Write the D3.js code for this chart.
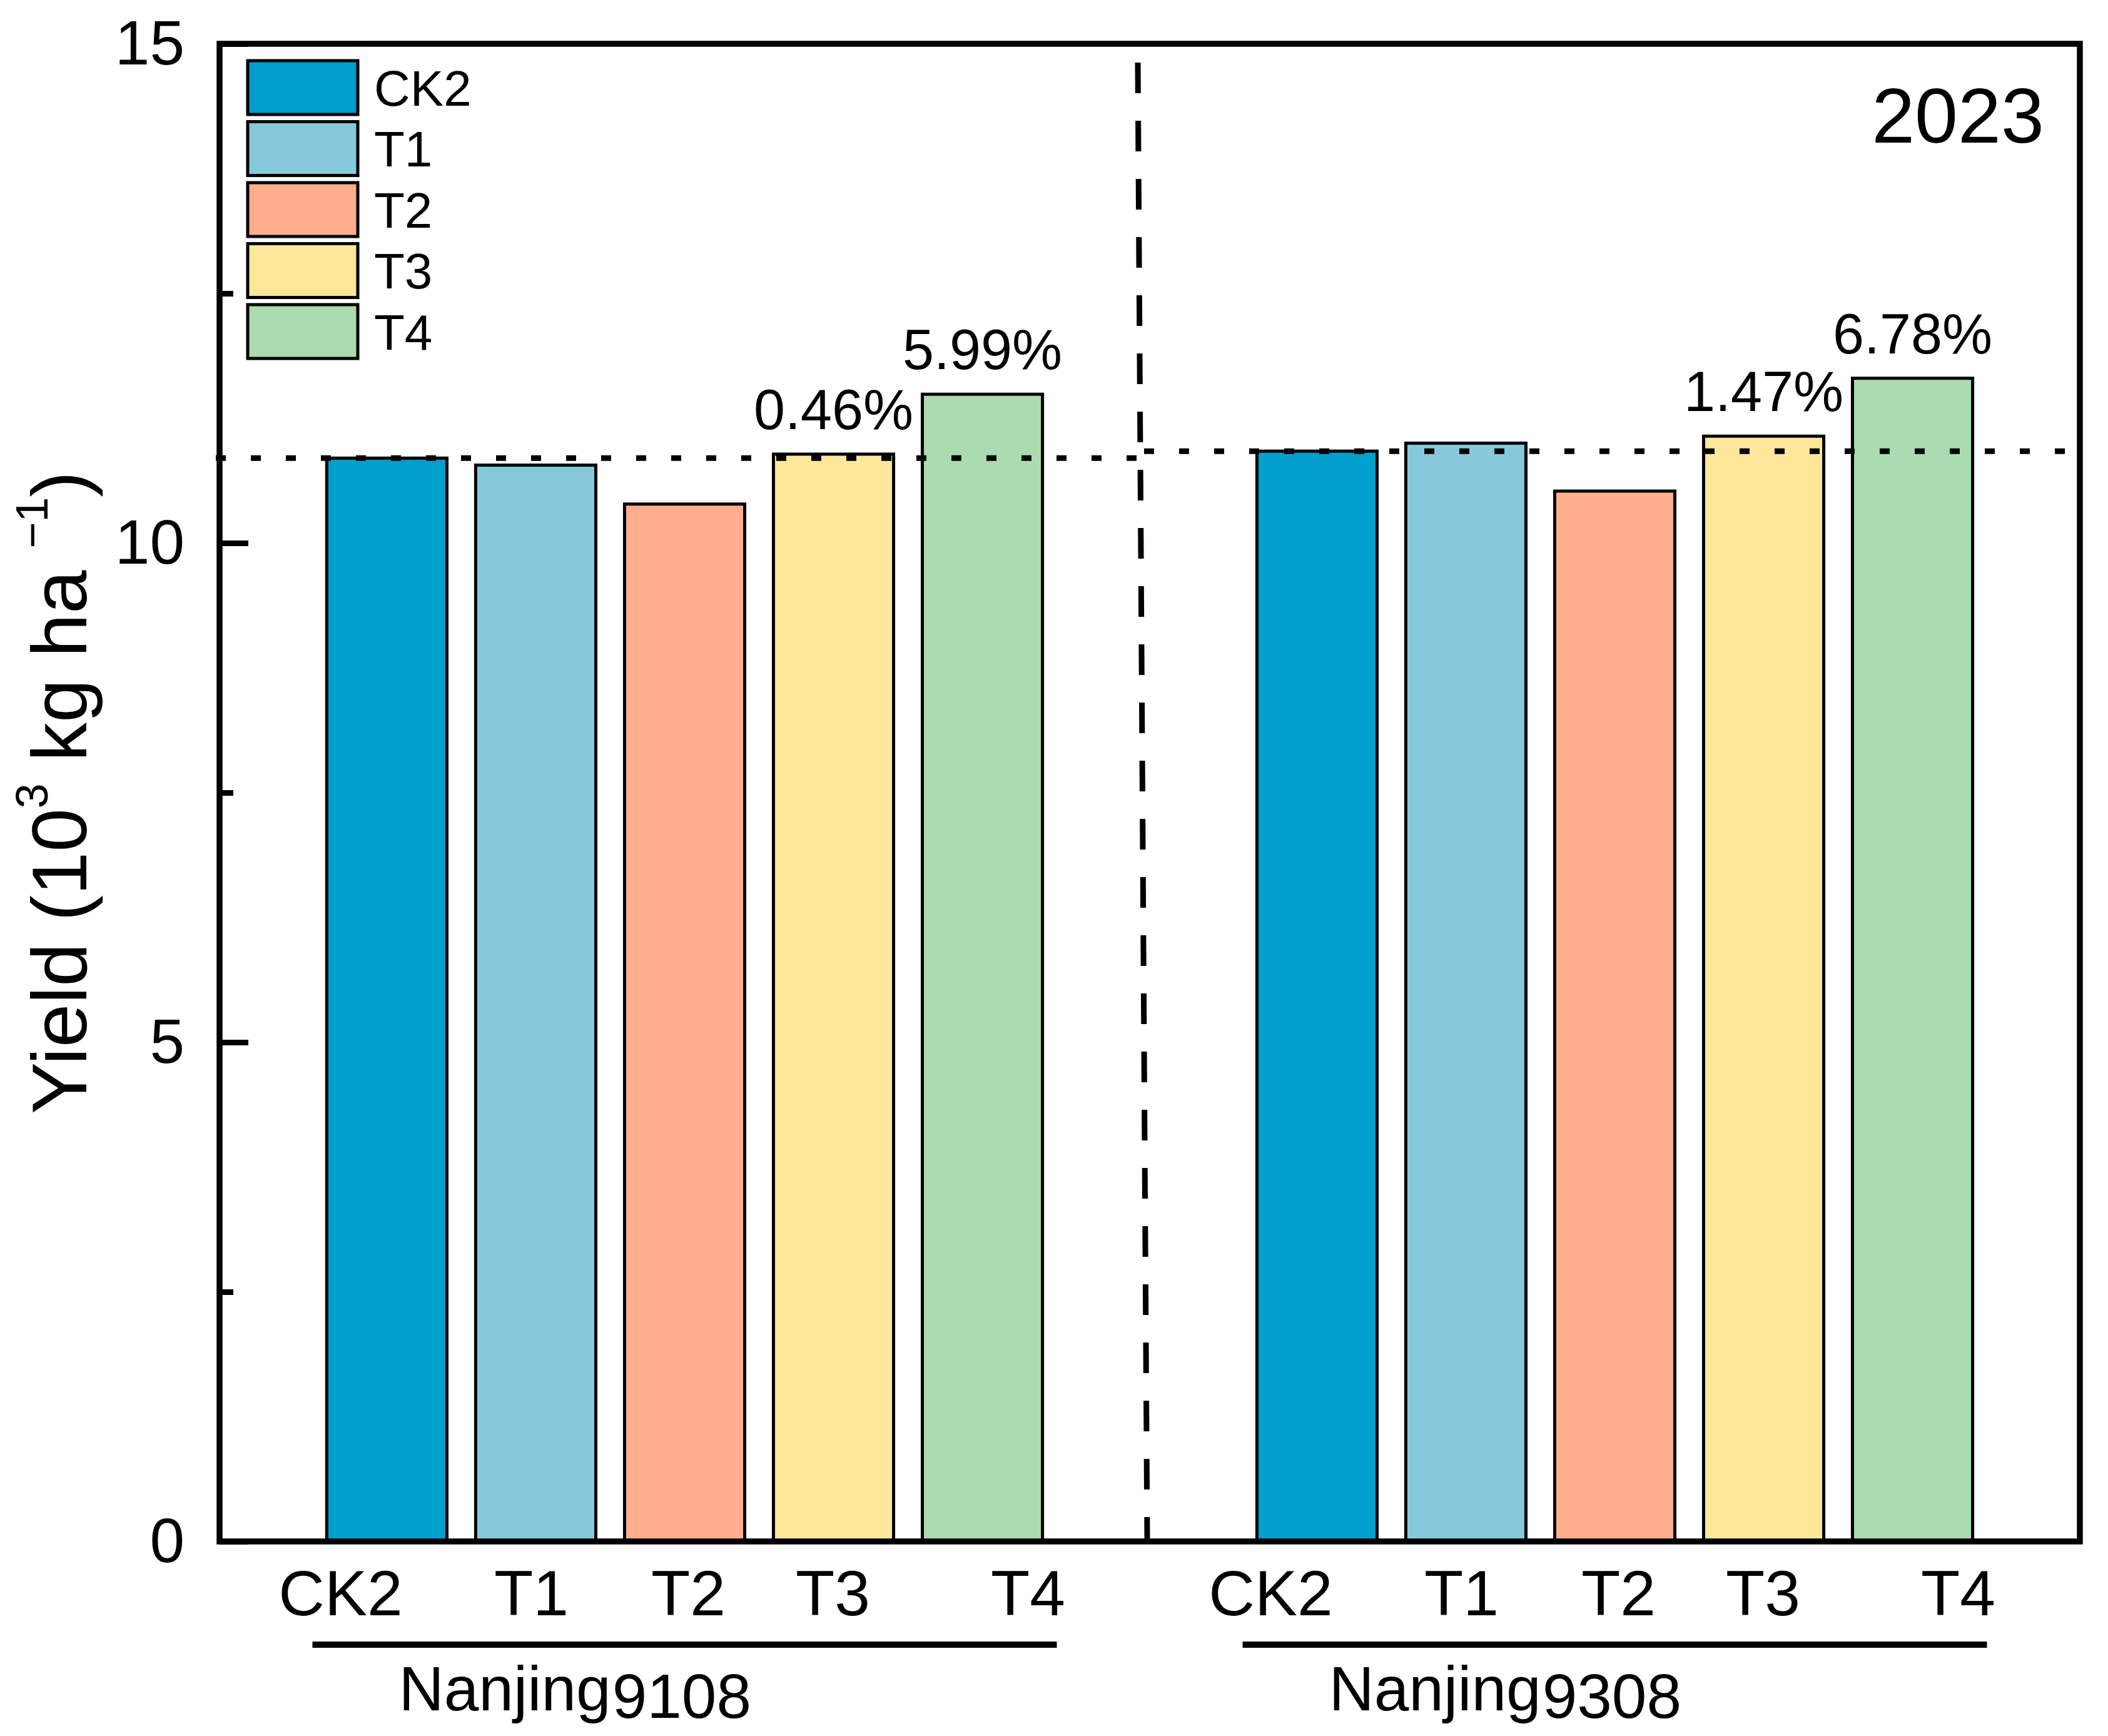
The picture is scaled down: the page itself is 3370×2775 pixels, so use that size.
<!doctype html>
<html>
<head>
<meta charset="utf-8">
<script src="https://cdn.jsdelivr.net/npm/d3@7"></script>
<style>
  html, body { margin: 0; padding: 0; background: #fff; }
  svg { display: block; font-family: "Liberation Sans", Arial, sans-serif; }
</style>
</head>
<body>
<div id="chart"></div>
<script>
// ---- data ----
var treatments = ["CK2", "T1", "T2", "T3", "T4"];
var groupCodes = ["9108", "9308"];
var groupPrefix = "Nanjing";
var yield9108 = [10.85, 10.78, 10.39, 10.89, 11.49];
var yield9308 = [10.92, 11.00, 10.52, 11.07, 11.65];
var pct9108 = [null, null, null, "0.46%", "5.99%"];
var pct9308 = [null, null, null, "1.47%", "6.78%"];
var yMajorTicks = [0, 5, 10, 15];
var yMinorTicks = [2.5, 7.5, 12.5];
var yearLabel = "2023";

(function () {
    var yieldByGroup = { "9108": yield9108, "9308": yield9308 };
    var pctByGroup = { "9108": pct9108, "9308": pct9308 };

    // ---- layout / style ----
    var W = 3370, H = 2775;
    var plotL = 351, plotR = 3325, plotT = 70, plotB = 2464;
    var colors = d3.scaleOrdinal()
        .domain(treatments)
        .range(["#009fcd", "#86c9dc", "#feae8d", "#fee79b", "#aadcb0"]);
    // the x labels in the original were nudged by hand
    var labelNudge = [-74, -7, 6, -1, 73];

    var svg = d3.select("#chart").append("svg")
        .attr("width", W)
        .attr("height", H);

    svg.append("rect").attr("width", W).attr("height", H).attr("fill", "#fff");

    var y = d3.scaleLinear().domain([0, 15]).range([plotB, plotT]);
    var xg = d3.scaleBand().domain(groupCodes).range([plotL, plotR]).padding(0);
    var xt = d3.scaleBand().domain(treatments)
        .range([0, xg.bandwidth()])
        .paddingInner(0.193)
        .paddingOuter(0.72);

    var rows = [];
    groupCodes.forEach(function (g) {
        treatments.forEach(function (t, i) {
            rows.push({ group: g, treatment: t, i: i, value: yieldByGroup[g][i], pct: pctByGroup[g][i] });
        });
    });

    // bars
    svg.append("g").selectAll("rect")
        .data(rows)
        .enter()
        .append("rect")
            .attr("x", function (d) { return xg(d.group) + xt(d.treatment); })
            .attr("y", function (d) { return y(d.value); })
            .attr("width", xt.bandwidth())
            .attr("height", function (d) { return y(0) - y(d.value); })
            .attr("fill", function (d) { return colors(d.treatment); })
            .attr("stroke", "#000")
            .attr("stroke-width", 5);

    // divider between the cultivars (slightly tilted in the original)
    var divX = xg(groupCodes[1]);
    svg.append("line")
        .attr("x1", divX - 19).attr("y1", plotT + 30)
        .attr("x2", divX - 4).attr("y2", plotB)
        .attr("stroke", "#000")
        .attr("stroke-width", 9)
        .attr("stroke-dasharray", "49,44");

    // CK2 reference lines
    var splitX = divX - 9;
    groupCodes.forEach(function (g, gi) {
        var yy = y(yieldByGroup[g][0]);
        svg.append("line")
            .attr("x1", gi === 0 ? plotL - 6 : splitX)
            .attr("x2", gi === 0 ? splitX : plotR)
            .attr("y1", yy).attr("y2", yy)
            .attr("stroke", "#000")
            .attr("stroke-width", 9)
            .attr("stroke-dasharray", "16,40");
    });

    // percentage labels
    svg.append("g").selectAll("text")
        .data(rows.filter(function (d) { return d.pct; }))
        .enter()
        .append("text")
            .attr("x", function (d) { return xg(d.group) + xt(d.treatment) + xt.bandwidth() / 2; })
            .attr("y", function (d) { return y(d.value) - 40; })
            .attr("text-anchor", "middle")
            .attr("font-size", 90)
            .text(function (d) { return d.pct; });

    // frame
    svg.append("rect")
        .attr("x", plotL).attr("y", plotT)
        .attr("width", plotR - plotL).attr("height", plotB - plotT)
        .attr("fill", "none")
        .attr("stroke", "#000")
        .attr("stroke-width", 9.5);

    // y axis (ticks inward)
    var yAxis = svg.append("g")
        .attr("transform", "translate(" + plotL + ",0)")
        .call(d3.axisLeft(y).tickValues(yMajorTicks).tickSize(-46).tickPadding(56).tickFormat(d3.format("d")));
    yAxis.select(".domain").remove();
    yAxis.selectAll("line").attr("stroke", "#000").attr("stroke-width", 9);
    yAxis.selectAll("text").attr("font-size", 100).attr("fill", "#000")
        .attr("font-family", "Liberation Sans, Arial, sans-serif");

    var yMinor = svg.append("g")
        .attr("transform", "translate(" + plotL + ",0)")
        .call(d3.axisLeft(y).tickValues(yMinorTicks).tickSize(-22).tickFormat(""));
    yMinor.select(".domain").remove();
    yMinor.selectAll("line").attr("stroke", "#000").attr("stroke-width", 9);

    // y title
    var title = svg.append("text")
        .attr("transform", "translate(138," + ((plotT + plotB) / 2) + ") rotate(-90)")
        .attr("text-anchor", "middle")
        .attr("font-size", 125);
    title.append("tspan").text("Yield (10");
    title.append("tspan").attr("font-size", 72).attr("dy", -62).text("3");
    title.append("tspan").attr("dy", 62).text(" kg ha ");
    title.append("tspan").attr("font-size", 72).attr("dy", -62).text("\u22121");
    title.append("tspan").attr("dy", 62).text(")");

    // x labels
    svg.append("g").selectAll("text")
        .data(rows)
        .enter()
        .append("text")
            .attr("x", function (d) { return xg(d.group) + xt(d.treatment) + xt.bandwidth() / 2 + labelNudge[d.i]; })
            .attr("y", 2582)
            .attr("text-anchor", "middle")
            .attr("font-size", 102)
            .text(function (d) { return d.treatment; });

    // cultivar brackets and names
    groupCodes.forEach(function (g) {
        var cx = xg(g) + xg.bandwidth() / 2;
        svg.append("line")
            .attr("x1", cx - 595).attr("x2", cx + 595)
            .attr("y1", 2629).attr("y2", 2629)
            .attr("stroke", "#000")
            .attr("stroke-width", 10);
        var t = svg.append("text")
            .attr("x", cx - 457)
            .attr("y", 2734)
            .attr("font-size", 100);
        t.append("tspan").text(groupPrefix);
        t.append("tspan").attr("dx", 2).attr("dy", 12).text(g);
    });

    // legend
    var legend = svg.append("g");
    treatments.forEach(function (t, i) {
        var by = 97 + i * 97.5;
        legend.append("rect")
            .attr("x", 396).attr("y", by)
            .attr("width", 176).attr("height", 86)
            .attr("fill", colors(t))
            .attr("stroke", "#000")
            .attr("stroke-width", 5);
        legend.append("text")
            .attr("x", 598).attr("y", by + 43)
            .attr("dy", "0.36em")
            .attr("font-size", 80)
            .text(t);
    });

    // year tag
    svg.append("text")
        .attr("x", 3268).attr("y", 228)
        .attr("text-anchor", "end")
        .attr("font-size", 124)
        .text(yearLabel);
})();
</script>
</body>
</html>
